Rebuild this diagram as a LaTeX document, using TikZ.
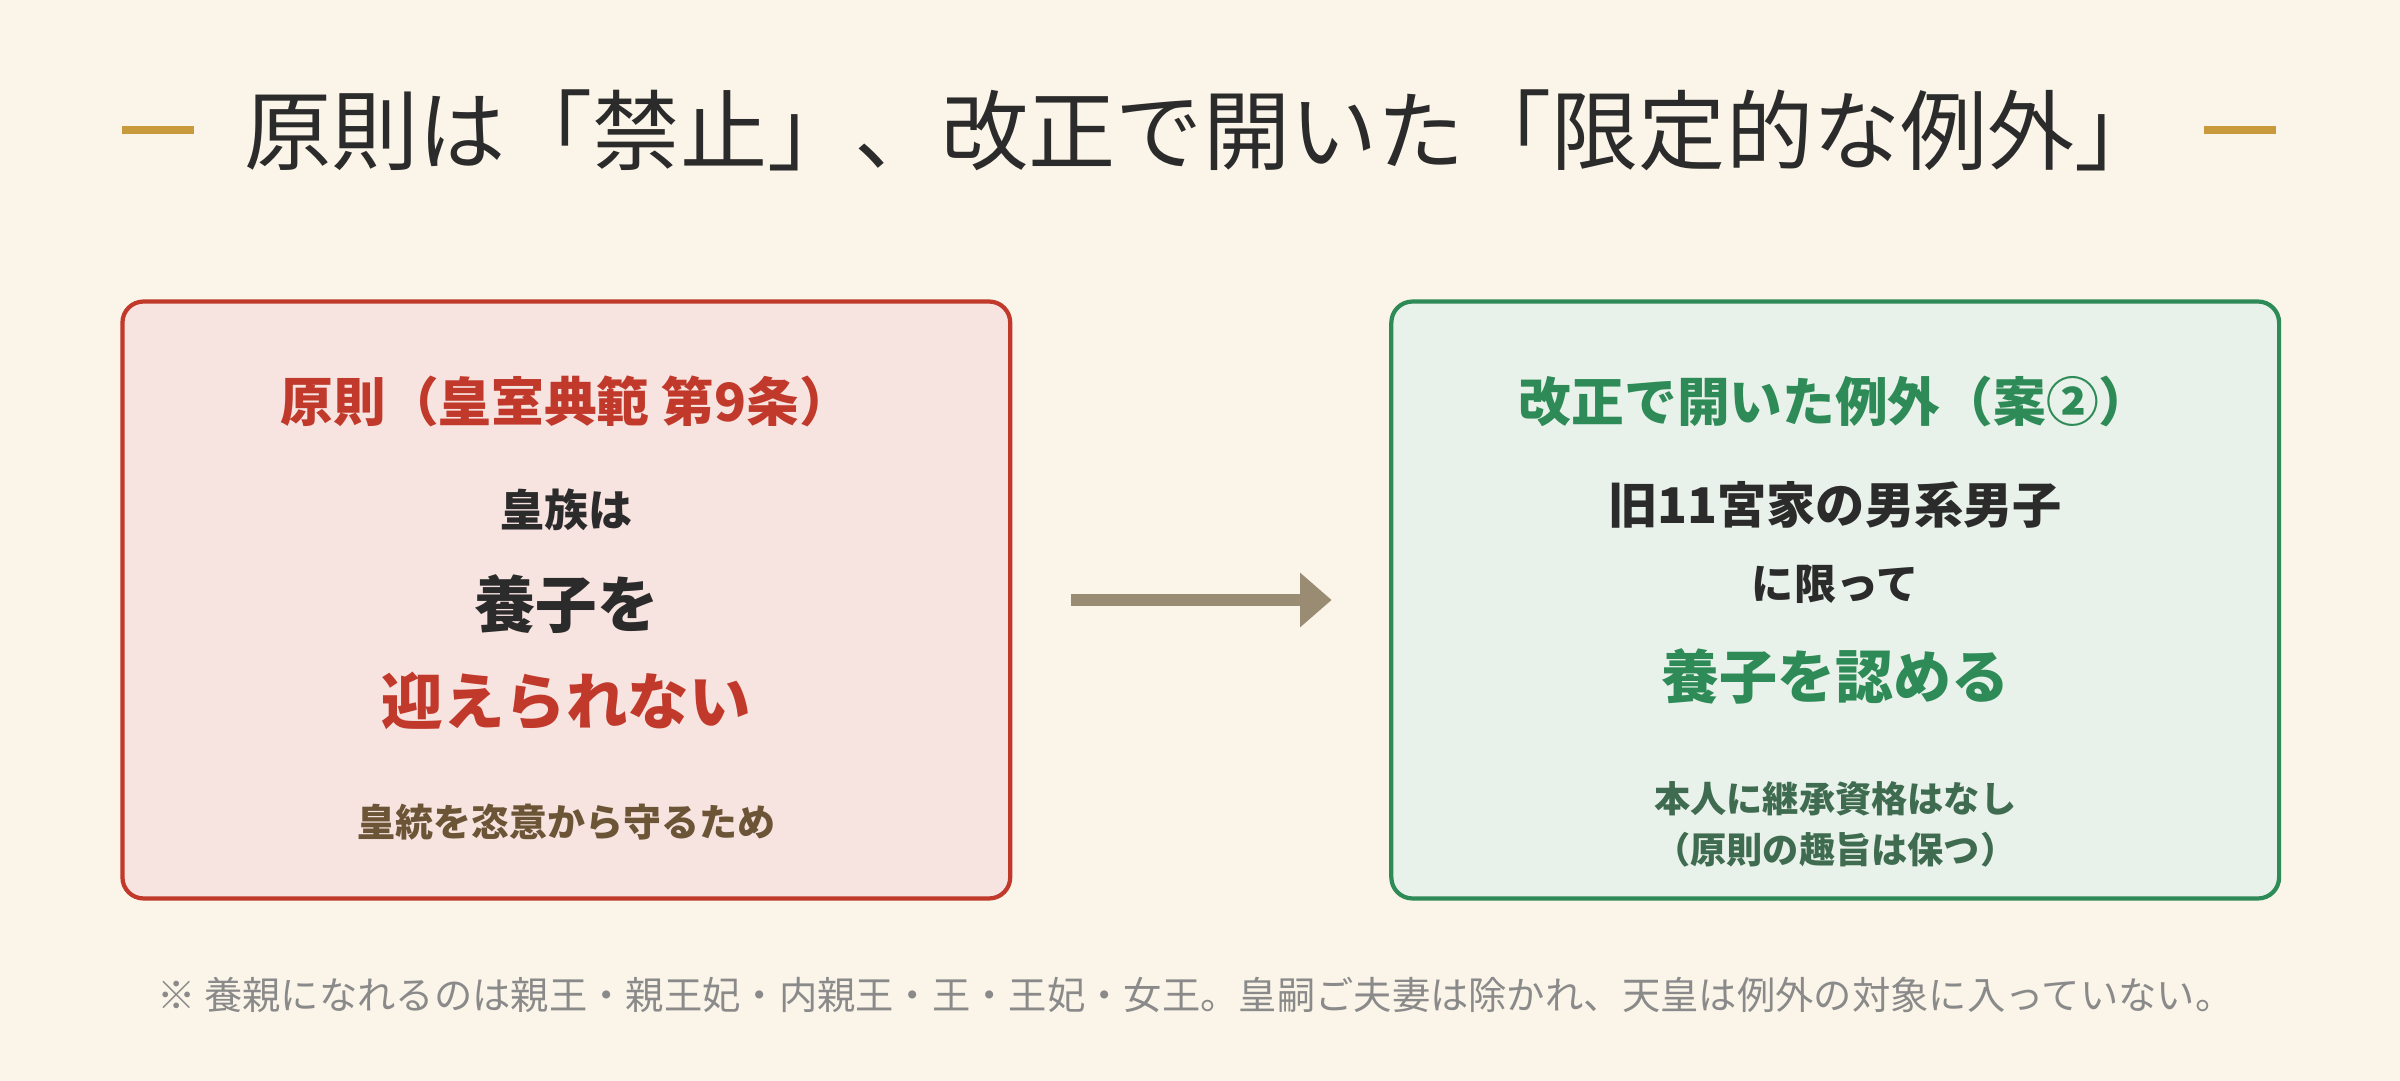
\documentclass[tikz,border=0pt]{standalone}
\usepackage{fontspec}
\setmainfont{Noto Sans CJK JP}
\usetikzlibrary{arrows.meta}
\definecolor{bgcream}{HTML}{FBF5E9}
\definecolor{goldbar}{HTML}{C99A3C}
\definecolor{ruleRed}{HTML}{C0392B}
\definecolor{ruleFill}{HTML}{F7E3E0}
\definecolor{exGreen}{HTML}{2E8B57}
\definecolor{exFill}{HTML}{E9F2EA}
\definecolor{inkDark}{HTML}{2B2B2B}
\definecolor{inkBrown}{HTML}{6B5536}
\definecolor{inkMoss}{HTML}{3F6B50}
\definecolor{arrowTaupe}{HTML}{9A8C72}
\definecolor{noteGray}{HTML}{8A8A8A}
\tikzset{
  box/.style={rounded corners=6pt,line width=1.2pt},
  txt/.style={anchor=center,inner sep=0pt,font=\bfseries},
}
\newcommand{\fsz}[1]{\fontsize{#1}{#1}\selectfont}

\begin{document}
\begin{tikzpicture}[x=0.0153061cm,y=-0.0153061cm]
        %
        \fill[bgcream] (0,0) rectangle (1568,706);
        \useasboundingbox (0,0) rectangle (1568,706);
        %
        % title
        \draw[goldbar,line width=2.2pt] (80,85) -- (127,85);
        \draw[goldbar,line width=2.2pt] (1440,85) -- (1487,85);
        \node[txt,inkDark,font=\fsz{24.8pt}] (title) at (786,85) {原則は「禁止」、改正で開いた「限定的な例外」};
        %
        % left box
        \filldraw[box,fill=ruleFill,draw=ruleRed] (80,197) rectangle (660,587);
        \node[txt,ruleRed,font=\fsz{15pt}\bfseries] (ruleHead) at (370,262) {原則（皇室典範 第9条）};
        \node[txt,inkDark,font=\fsz{12.5pt}\bfseries] (ruleA) at (370,333) {皇族は};
        \node[txt,inkDark,font=\fsz{17.5pt}\bfseries] (ruleB) at (370,395) {養子を};
        \node[txt,ruleRed,font=\fsz{17.5pt}\bfseries] (ruleC) at (370,458) {迎えられない};
        \node[txt,inkBrown,font=\fsz{10.8pt}\bfseries] (ruleWhy) at (370,537) {皇統を恣意から守るため};
        %
        % arrow
        \coordinate (arrS) at (700,392);
        \coordinate (arrE) at (870,392);
        \draw[arrowTaupe,line width=3.6pt,-{Triangle[length=9pt,width=15pt]}] (arrS) -- (arrE);
        %
        % right box
        \filldraw[box,fill=exFill,draw=exGreen] (909,197) rectangle (1489,587);
        \node[txt,exGreen,font=\fsz{15pt}\bfseries] (exHead) at (1199,262) {改正で開いた例外（案②）};
        \node[txt,inkDark,font=\fsz{14pt}\bfseries] (exA) at (1199,330) {旧11宮家の男系男子};
        \node[txt,inkDark,font=\fsz{12pt}\bfseries] (exB) at (1199,382) {に限って};
        \node[txt,exGreen,font=\fsz{16.5pt}\bfseries] (exC) at (1199,442) {養子を認める};
        \node[txt,inkMoss,font=\fsz{10.3pt}\bfseries] (exD) at (1199,522) {本人に継承資格はなし};
        \node[txt,inkMoss,font=\fsz{10.3pt}\bfseries] (exE) at (1199,555) {（原則の趣旨は保つ）};
        %
        % footnote
        \node[txt,noteGray,font=\fsz{10.9pt}] (note) at (781,650) {※ 養親になれるのは親王・親王妃・内親王・王・王妃・女王。皇嗣ご夫妻は除かれ、天皇は例外の対象に入っていない。};
      \end{tikzpicture}
\end{document}
